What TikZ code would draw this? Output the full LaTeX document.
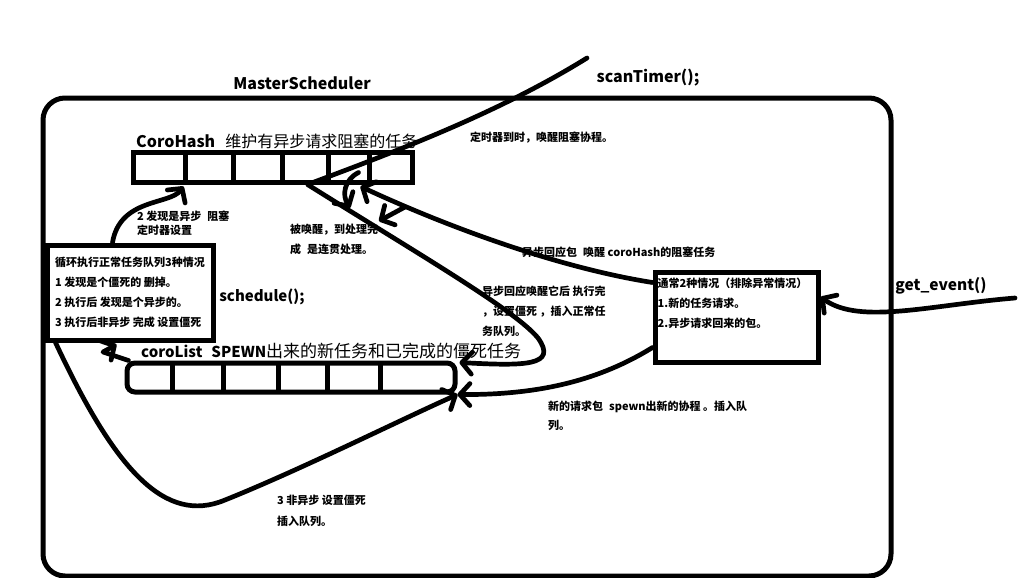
\documentclass[tikz,border=0pt]{standalone}
\usepackage{fontspec}
\setmainfont{Noto Sans CJK SC}
\usetikzlibrary{arrows.meta,calc}
\begin{document}
\begin{tikzpicture}[x=1pt,y=-1pt,
  box/.style={draw, line width=5pt, inner sep=0pt},
  conn/.style={line width=4.7pt, line cap=round, line join=round, -{Straight Barb[length=10pt,width=22pt,round]}},
  divider/.style={line width=5pt},
  title/.style={font=\bfseries\fontsize{16}{18}\selectfont, inner sep=0pt},
  note/.style={font=\bfseries\fontsize{11}{20}\selectfont, align=left, inner sep=0pt, anchor=north west},
]
\useasboundingbox (0,0) rectangle (1028,578);

% main frame
\node[box, rounded corners=22pt, minimum width=848pt, minimum height=478pt] (master) at (467,337) {};
\node[title] (mlabel) at (302,83) {MasterScheduler};
\node[title] (scanlabel) at (648,78) {scanTimer();};
\node[title, font=\bfseries\fontsize{15.5}{18}\selectfont] (getlabel) at (941,286) {get\_event()};
\node[title, font=\bfseries\fontsize{15}{18}\selectfont] (schedlabel) at (262,297) {schedule();};

% CoroHash array
\node[box, minimum width=279pt, minimum height=30pt] (coroHash) at (272.5,167) {};
\foreach \x in {185,233,282,328,369} \draw[divider] (\x,152) -- (\x,182);
\node[anchor=base west, inner sep=0pt, font=\fontsize{16}{18}\selectfont] (hashlabel) at (136,147)
  {{\bfseries CoroHash}\hspace{10pt}维护有异步请求阻塞的任务};

% coroList array
\node[box, rounded corners=8pt, minimum width=328pt, minimum height=29pt] (coroList) at (291,377.5) {};
\foreach \x in {172,223,278,327,380} \draw[divider] (\x,363) -- (\x,392);
\node[anchor=base west, inner sep=0pt, font=\fontsize{17}{20}\selectfont] (listlabel) at (141,357)
  {{\bfseries\fontsize{15}{18}\selectfont coroList\hspace{9pt}SPEWN}出来的新任务和已完成的僵死任务};

% left box
\node[box, minimum width=166pt, minimum height=95pt, align=left, font=\bfseries\fontsize{11}{20}\selectfont] (leftbox) at (130,292.5)
  {循环执行正常任务队列3种情况\\1 发现是个僵死的 删掉。\\2 执行后 发现是个异步的。\\3 执行后非异步 完成 设置僵死};

% right box
\node[box, minimum width=163pt, minimum height=90pt] (rightbox) at (736.5,317) {};
\node[note] (rbtext) at ($(rightbox.north west)+(5,8)$)
  {通常2种情况（排除异常情况）\\1.新的任务请求。\\2.异步请求回来的包。};

% annotations
\node[note] (nTimer) at (470,132) {定时器到时，唤醒阻塞协程。};
\node[note, font=\bfseries\fontsize{11}{14}\selectfont] (nTwo) at (137,211) {2 发现是异步\hspace{6pt}阻塞\\定时器设置};
\node[note] (nWake) at (290,224) {被唤醒，到处理完\\成\hspace{6pt}是连贯处理。};
\node[note] (nAsync) at (522,247) {异步回应包\hspace{6pt}唤醒 coroHash的阻塞任务};
\node[note] (nDone) at (482,286) {异步回应唤醒它后 执行完\\，设置僵死 ，插入正常任\\务队列。};
\node[note, font=\bfseries\fontsize{11}{19}\selectfont] (nNew) at (548,401) {新的请求包\hspace{6pt}spewn出新的协程 。插入队\\列。};
\node[note, font=\bfseries\fontsize{11}{21}\selectfont] (nThree) at (277,495) {3 非异步 设置僵死\\插入队列。};

% free ends
\coordinate (scanStart) at (587,58);
\coordinate (getStart) at (1015,298);
\coordinate (hashJoin) at ($(coroHash.south west)+(177,0)$);
\coordinate (listTip) at ($(coroList.north east)+(2,2)$);
\coordinate (hashTip2) at ($(coroHash.south west)+(230,2)$);
\coordinate (wakeStart) at ($(coroHash.south west)+(228,-12)$);
\coordinate (wakeTip) at (350,208);
\coordinate (shortStart) at (405,207);
\coordinate (shortTip) at (379,221);

% connectors
\draw[conn] (scanStart) .. controls (500,112) and (400,150) .. (hashJoin)
  .. controls (420,255) and (515,310) .. (538,338)
  .. controls (558,366) and (525,366) .. (listTip);
\draw[conn] ($(rightbox.north west)+(0,13)$) .. controls (560,268) and (450,228) .. (hashTip2);
\draw[conn] (wakeStart) .. controls (344,180) and (342,195) .. (wakeTip);
\draw[conn] (shortStart) -- (shortTip);
\draw[conn] ($(leftbox.north west)+(68,0)$) .. controls (120,198) and (170,205) .. ($(coroHash.south west)+(53,2)$);
\draw[conn] ($(coroList.north west)+(4,0)$) -- (103,352) -- ($(leftbox.south west)+(72,2)$);
\draw[conn] ($(leftbox.south west)+(11,0)$) .. controls (115,470) and (165,525) .. (225,500)
  .. controls (300,470) and (400,420) .. (coroList.south east);
\draw[conn] ($(rightbox.south west)+(0,-17)$) .. controls (600,380) and (540,395) .. (coroList.south east);
\draw[conn] (getStart) .. controls (930,305) and (860,325) .. ($(rightbox.east)+(0,-20)$);
\end{tikzpicture}
\end{document}
